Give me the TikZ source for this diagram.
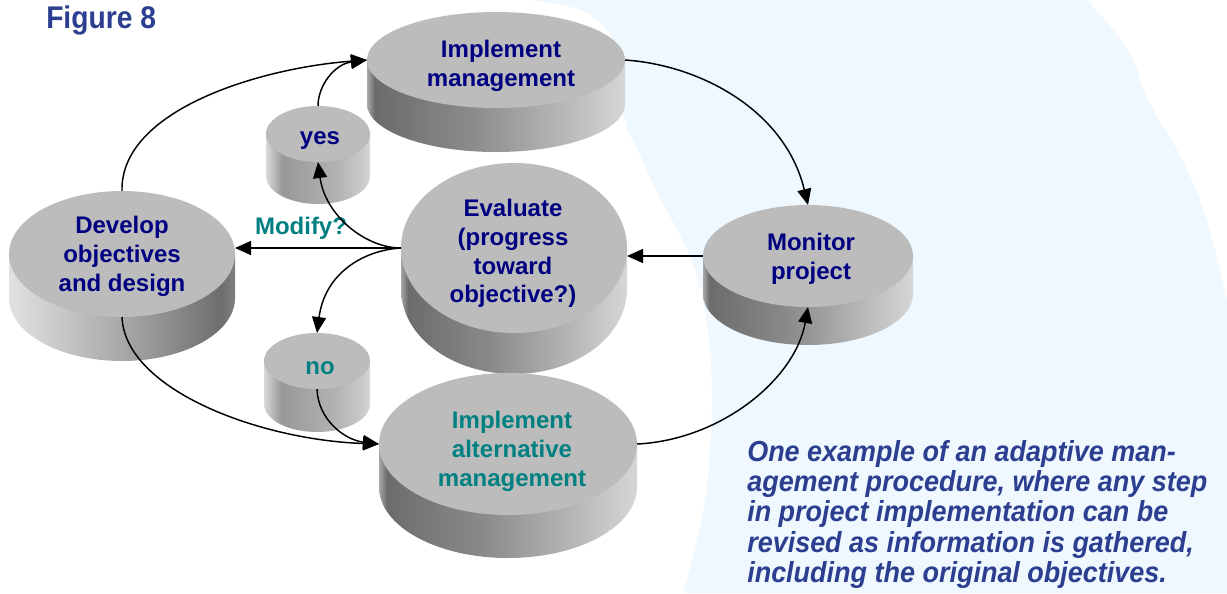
\documentclass[tikz,border=0pt]{standalone}
\usepackage{fontspec}
\setmainfont{Liberation Sans}
\newfontfamily\figfont[FakeStretch=0.9]{Liberation Sans}
\newfontfamily\capfont[FakeStretch=0.93]{Liberation Sans}
\usetikzlibrary{shapes.geometric,arrows.meta}
\definecolor{nodeblue}{RGB}{0,0,128}
\definecolor{nodeteal}{RGB}{0,128,128}
\definecolor{capblue}{RGB}{44,62,143}
\definecolor{bgblue}{RGB}{239,248,254}
\definecolor{topgray}{RGB}{188,188,188}
\definecolor{sA}{RGB}{168,168,168}
\definecolor{sB}{RGB}{108,108,108}
\definecolor{sC}{RGB}{138,138,138}
\definecolor{sD}{RGB}{196,196,196}
\definecolor{sE}{RGB}{214,214,214}
\definecolor{lA}{RGB}{226,226,226}
\definecolor{lB}{RGB}{168,168,168}
\definecolor{lC}{RGB}{110,110,110}
\definecolor{lD}{RGB}{128,128,128}
\definecolor{mA}{RGB}{218,218,218}
\definecolor{mB}{RGB}{152,152,152}
\definecolor{mC}{RGB}{180,180,180}
\definecolor{mD}{RGB}{206,206,206}
\definecolor{mE}{RGB}{216,216,216}
\pgfdeclarehorizontalshading{shR}{100bp}{color(0bp)=(sA); color(25bp)=(sA); color(26.5bp)=(sB); color(45bp)=(sC); color(68bp)=(sD); color(75bp)=(sE); color(100bp)=(sE)}
\pgfdeclarehorizontalshading{shL}{100bp}{color(0bp)=(lA); color(25bp)=(lA); color(50bp)=(lB); color(72bp)=(lC); color(75bp)=(lD); color(100bp)=(lD)}
\pgfdeclarehorizontalshading{shM}{100bp}{color(0bp)=(mA); color(25bp)=(mA); color(33bp)=(mB); color(60bp)=(mC); color(73bp)=(mD); color(75bp)=(mE); color(100bp)=(mE)}
\newcommand\pxu{0.75pt}
% #1 name, #2 cx, #3 cy, #4 rx, #5 ry, #6 height, #7 shading
\newcommand\cylinder[7]{%
  \shade[shading=#7] (#2-#4,#3) -- (#2-#4,#3+#6)
    arc[start angle=180,end angle=360,x radius=#4*\pxu,y radius=#5*\pxu]
    -- (#2+#4,#3) -- cycle;
  \node[face, minimum width=2*#4*\pxu, minimum height=2*#5*\pxu] (#1) at (#2,#3) {};
}
\tikzset{
  face/.style={ellipse, fill=topgray, draw=none, inner sep=0pt, outer sep=0pt},
  lbl/.style={align=center, inner sep=0pt, text=nodeblue,
    font=\fontsize{18pt}{21.6pt}\selectfont\bfseries},
  lblteal/.style={lbl, text=nodeteal},
  arr/.style={draw=black, line width=1.1pt, -{Triangle[length=12pt,width=10.5pt]}},
}
\begin{document}
\begin{tikzpicture}[x=0.75pt, y=-0.75pt]
\useasboundingbox (0,0) rectangle (1227,593);
\fill[white] (0,0) rectangle (1227,593);
% light blue background
\fill[bgblue] plot[smooth, tension=0.6] coordinates {(530,0) (585,12) (615,45) (624,117) (638,150) (656,190) (680,235) (694,267) (703,300) (710,350) (712,400) (710,450) (705,500) (695,550) (683,593)}
  -- (1227,593) -- (1227,300)
  -- plot[smooth, tension=0.6] coordinates {(1227,300) (1215,250) (1200,200) (1177,150) (1148,100) (1128,50) (1087,0)}
  -- cycle;

% cylinders
\cylinder{im}{496}{60}{129}{48}{44}{shR}
\cylinder{yes}{318}{134}{52}{28}{42}{shM}
\cylinder{ev}{514}{248}{113}{85}{41}{shR}
\cylinder{mp}{808}{256}{105}{51}{38}{shR}
\cylinder{dv}{122}{254}{113}{63}{44}{shL}
\cylinder{no}{317}{361}{53}{28}{43}{shM}
\cylinder{ia}{508}{444}{129}{71}{43}{shR}

% labels
\node[lbl] (imt) at (501,65.5) {Implement\\management};
\node[lbl] (yest) at (320,141) {yes};
\node[lbl] (evt) at (513,253.5) {Evaluate\\(progress\\toward\\objective?)};
\node[lbl] (mpt) at (811,258.5) {Monitor\\project};
\node[lbl] (dvt) at (122,256.5) {Develop\\objectives\\and design};
\node[lblteal] (not) at (320,368.5) {no};
\node[lblteal] (iat) at (512,451.5) {Implement\\alternative\\management};
\node[lblteal] (mod) at (301,228) {Modify?};

% connectors
\draw[arr] (dv.north) .. controls (120,110) and (260,68) .. (im.west);
\draw[arr] (yes.north) .. controls (318,85) and (335,64) .. (im.west);
\draw[arr] (im.east) .. controls (700,65) and (785,110) .. (mp.north);
\draw[arr] (mp.west) -- (mp.west -| ev.east);
\draw[arr] (ev.west) -- (ev.west -| dv.east);
\draw[arr] (ev.west) .. controls (365,248) and (325,215) .. (yes.south);
\draw[arr] (ev.west) .. controls (365,250) and (325,272) .. (no.north);
\draw[arr] (dv.south) .. controls (125,390) and (260,440) .. (ia.west);
\draw[arr] (no.south) .. controls (318,420) and (345,440) .. (ia.west);
\draw[arr] (ia.east) .. controls (720,440) and (795,380) .. (mp.south);

% titles
\node[anchor=base west, inner sep=0pt, text=capblue,
  font=\fontsize{23.5pt}{27pt}\figfont\bfseries] (fig) at (46,28) {Figure 8};
\node[anchor=north west, align=left, inner sep=0pt, text=capblue,
  font=\fontsize{21.75pt}{22.7pt}\capfont\bfseries\itshape] (cap) at (747,440)
  {One example of an adaptive man-\\agement procedure, where any step\\in project implementation can be\\revised as information is gathered,\\including the original objectives.};
\end{tikzpicture}
\end{document}
